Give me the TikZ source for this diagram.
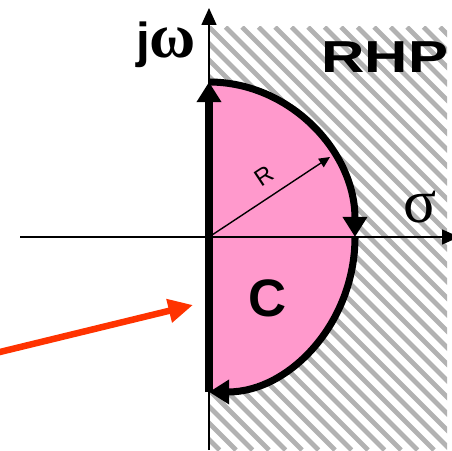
\documentclass[tikz,border=0pt]{standalone}
\usepackage{fontspec}
\setmainfont{Liberation Sans}
\newfontfamily\serifgreek{Liberation Serif}
\usepackage{xcolor}
\usepackage{tikz}
\usetikzlibrary{arrows.meta}

\definecolor{contourpink}{HTML}{FF99CC}
\definecolor{ptrred}{HTML}{FF3300}

\begin{document}
\begin{tikzpicture}[x=0.02cm, y=0.02cm,
        axis/.style={line width=0.8pt, -{Triangle[length=9.6pt, width=8.5pt]}},
        contour/.style={line width=4pt, -{Triangle[length=11.5pt, width=13.5pt]}},
        hatch/.style={black!30, line width=2.8pt},
        lbl/.style={inner sep=0pt, font=\bfseries}
        ]
        \useasboundingbox (0,0) rectangle (452,450);

        \coordinate (O) at (209,213);
        \coordinate (T) at (209,368);
        \coordinate (E) at (355,213);
        \coordinate (B) at (209,58);
        \coordinate (Rtip) at (330,293);

        % right half plane
        \begin{scope}
                \clip (209,0) rectangle (447,423);
                \foreach \i in {-26,...,15} {
                        \draw[hatch] (209+\i*16.5, 423) -- ++(423,-423);
                    }
        \end{scope}

        % region C
        \fill[contourpink] (B) -- (T)
                arc[start angle=90, end angle=-90, x radius=2.92cm, y radius=3.1cm] -- cycle;

        % axes
        \coordinate (xl) at (20,213);
        \coordinate (xr) at (459,213);
        \coordinate (yb) at (209,0);
        \coordinate (yt) at (209,442);
        \draw[axis] (xl) -- (xr);
        \draw[axis] (yb) -- (yt);

        % contour
        \draw[contour] (T) arc[start angle=90, end angle=0, x radius=2.92cm, y radius=3.1cm];
        \draw[contour] (E) arc[start angle=0, end angle=-90, x radius=2.92cm, y radius=3.1cm];
        \draw[contour] (B) -- (T);

        % radius
        \draw[line width=0.8pt, -{Triangle[length=6.2pt, width=5.7pt]}] (O) -- (Rtip);
        \node[inner sep=0pt, rotate=33.5, font=\fontsize{13.5}{15}\selectfont] (rlabel) at (264,274) {R};

        % labels
        \node[lbl, anchor=base, font=\fontsize{28}{30}\selectfont\bfseries] (jw) at (166,392) {j{\fontsize{36}{38}\selectfont\serifgreek ω}};
        \node[lbl, anchor=base, font=\fontsize{35}{37}\selectfont\serifgreek\mdseries] (sigma) at (420,228) {σ};
        \node[lbl, anchor=base, xscale=1.34, font=\fontsize{25.5}{27}\selectfont\bfseries] (rhp) at (385,377) {RHP};
        \node[lbl, anchor=base, font=\fontsize{30}{32}\selectfont\bfseries] (cname) at (268,134) {C};

        % pointer
        \coordinate (ptrtail) at (-10,95.6);
        \coordinate (ptrtip) at (193,145);
        \draw[ptrred, line width=3.7pt, -{Triangle[length=14pt, width=13pt]}] (ptrtail) -- (ptrtip);
\end{tikzpicture}
\end{document}
